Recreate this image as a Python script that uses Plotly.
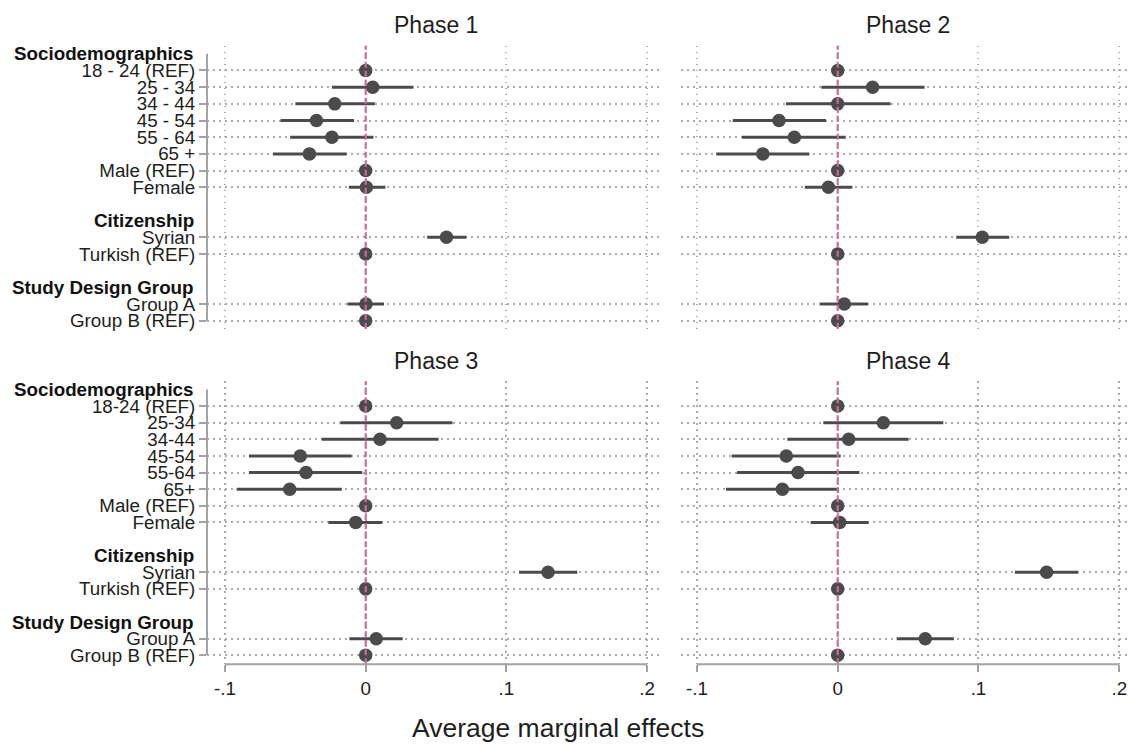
import plotly.graph_objects as go

# ---------------- data ----------------
labels_top = ["18 - 24 (REF)", "25 - 34", "34 - 44", "45 - 54", "55 - 64", "65 +",
              "Male (REF)", "Female", "Syrian", "Turkish (REF)", "Group A", "Group B (REF)"]
labels_bottom = ["18-24 (REF)", "25-34", "34-44", "45-54", "55-64", "65+",
                 "Male (REF)", "Female", "Syrian", "Turkish (REF)", "Group A", "Group B (REF)"]
headers = ["Sociodemographics", "Citizenship", "Study Design Group"]
phases = ["Phase 1", "Phase 2", "Phase 3", "Phase 4"]

# point estimates (None CI for reference categories)
est_p1 = [0, 0.005, -0.022, -0.035, -0.024, -0.040, 0, 0.0005, 0.0574, 0, 0.0002, 0]
lo_p1 = [None, -0.024, -0.050, -0.0605, -0.0537, -0.066, None, -0.012, 0.0437, None, -0.013, None]
hi_p1 = [None, 0.034, 0.0065, -0.0083, 0.0055, -0.0135, None, 0.014, 0.0716, None, 0.013, None]

est_p2 = [0, 0.0248, 0.0, -0.0417, -0.0308, -0.0532, 0, -0.0066, 0.1027, 0, 0.0047, 0]
lo_p2 = [None, -0.0116, -0.0367, -0.0745, -0.068, -0.0863, None, -0.0234, 0.0842, None, -0.0126, None]
hi_p2 = [None, 0.0617, 0.0376, -0.0083, 0.0057, -0.0201, None, 0.0104, 0.1218, None, 0.0215, None]

est_p3 = [0, 0.022, 0.0102, -0.0465, -0.0424, -0.054, 0, -0.0071, 0.1296, 0, 0.0075, 0]
lo_p3 = [None, -0.018, -0.0313, -0.083, -0.083, -0.0917, None, -0.0265, 0.109, None, -0.0116, None]
hi_p3 = [None, 0.0617, 0.0518, -0.010, -0.0024, -0.017, None, 0.0118, 0.1504, None, 0.0263, None]

est_p4 = [0, 0.0324, 0.0078, -0.0365, -0.0282, -0.0393, 0, 0.0014, 0.1484, 0, 0.0622, 0]
lo_p4 = [None, -0.0102, -0.0358, -0.0753, -0.0715, -0.0793, None, -0.0192, 0.1259, None, 0.0419, None]
hi_p4 = [None, 0.075, 0.0504, 0.0021, 0.0154, 0.0007, None, 0.022, 0.1708, None, 0.0825, None]

x_ticks = [-0.1, 0, 0.1, 0.2]
x_ticktext = ["-.1", "0", ".1", ".2"]

# slot positions on the categorical y axis (headers occupy their own slots)
row_slots = [1, 2, 3, 4, 5, 6, 7, 8, 11, 12, 15, 16]
header_slots = [0, 10, 14]

# ---------------- styling ----------------
W, H = 1129, 747
FONT = "Liberation Sans, Arial, sans-serif"
DARK = "#4b4b4b"
PINK = "#cf69a1"
GRID = "#ababab"
AXIS = "#a3a3a3"
TXT = "#1e1e1e"
FS = 18.8

def px_x(p):
    return p / W

def px_y(p):
    return 1 - p / H

x_dom = [[px_x(207), px_x(662)], [px_x(681), px_x(1128)]]
y_dom = [[px_y(330), px_y(46)], [px_y(667), px_y(383)]]
x_rng = [[-0.1128, 0.2106], [-0.1113, 0.2062]]
y_rng = [[16.48, -0.48], [16.54, -0.48]]

fig = go.Figure()
data = [(est_p1, lo_p1, hi_p1), (est_p2, lo_p2, hi_p2),
        (est_p3, lo_p3, hi_p3), (est_p4, lo_p4, hi_p4)]

shapes = []
annotations = []
for i, (est, lo, hi) in enumerate(data):
    r, c = divmod(i, 2)
    n = i + 1
    xa = "x" if n == 1 else f"x{n}"
    ya = "y" if n == 1 else f"y{n}"
    # CI lines
    cx, cy = [], []
    for s, l, h in zip(row_slots, lo, hi):
        if l is None:
            continue
        cx += [l, h, None]
        cy += [s, s, None]
    fig.add_trace(go.Scatter(x=cx, y=cy, mode="lines", xaxis=xa, yaxis=ya,
                             line=dict(color=DARK, width=3), showlegend=False,
                             hoverinfo="skip"))
    fig.add_trace(go.Scatter(x=est, y=row_slots, mode="markers", xaxis=xa, yaxis=ya,
                             marker=dict(color=DARK, size=13.5, line=dict(width=0)),
                             showlegend=False))
    labels = labels_top if r == 0 else labels_bottom
    xkey = "xaxis" if n == 1 else f"xaxis{n}"
    ykey = "yaxis" if n == 1 else f"yaxis{n}"
    fig.update_layout(**{
        xkey: dict(domain=x_dom[c], range=x_rng[c], anchor=ya,
                   tickvals=x_ticks, ticktext=x_ticktext,
                   showticklabels=(r == 1), ticks="outside" if r == 1 else "",
                   ticklen=7, tickwidth=2, tickcolor=AXIS, ticklabeloverflow="allow",
                   tickfont=dict(family=FONT, size=FS, color=TXT),
                   showgrid=True, gridcolor=GRID, gridwidth=1.5, griddash="1.5px,4.5px",
                   zeroline=False, showline=False),
        ykey: dict(domain=y_dom[r], range=y_rng[r], anchor=xa,
                   tickvals=row_slots, ticktext=labels,
                   showticklabels=(c == 0), ticks="outside" if c == 0 else "",
                   ticklen=7, tickwidth=2, tickcolor=AXIS,
                   tickfont=dict(family=FONT, size=FS, color=TXT),
                   showgrid=True, gridcolor=GRID, gridwidth=1.5, griddash="1.5px,4.5px",
                   zeroline=False, showline=False),
    })
    # zero reference line
    shapes.append(dict(type="line", xref=xa, yref=f"{ya} domain", x0=0, x1=0, y0=0, y1=1,
                       line=dict(color=PINK, width=2.2, dash="6px,3px"), layer="above"))
    # y axis line (left column only), spanning first header to last row
    if c == 0:
        shapes.append(dict(type="line", xref=f"{xa} domain", yref=ya, x0=0, x1=0,
                           y0=header_slots[0], y1=row_slots[-1],
                           line=dict(color=AXIS, width=2)))
        for hs, ht in zip(header_slots, headers):
            annotations.append(dict(text=f"<b>{ht}</b>", xref="paper", yref=ya,
                                    x=px_x(196), y=hs, xanchor="right", yanchor="middle",
                                    showarrow=False,
                                    font=dict(family=FONT, size=FS, color="#111111")))
    # x axis line (bottom row only)
    if r == 1:
        shapes.append(dict(type="line", xref=xa, yref=f"{ya} domain", x0=x_ticks[0],
                           x1=x_ticks[-1], y0=0, y1=0, line=dict(color=AXIS, width=2)))
    # panel title
    annotations.append(dict(text=phases[i], xref=xa, yref="paper",
                            x=(x_ticks[0] + x_ticks[-1]) / 2,
                            y=px_y(25 + 337 * r), xanchor="center", yanchor="middle",
                            showarrow=False, font=dict(family=FONT, size=23, color=TXT)))

annotations.append(dict(text="Average marginal effects", xref="paper", yref="paper",
                        x=px_x(558), y=px_y(731), xanchor="center", yanchor="middle",
                        showarrow=False, font=dict(family=FONT, size=26.5, color=TXT)))

fig.update_layout(width=W, height=H, margin=dict(l=0, r=0, t=0, b=0),
                  paper_bgcolor="white", plot_bgcolor="white",
                  shapes=shapes, annotations=annotations,
                  font=dict(family=FONT, color=TXT))

fig.write_html("out.html",
               config={"displayModeBar": False},
               post_script="document.body.style.margin='0px';"
                           "document.body.style.overflow='hidden';")
